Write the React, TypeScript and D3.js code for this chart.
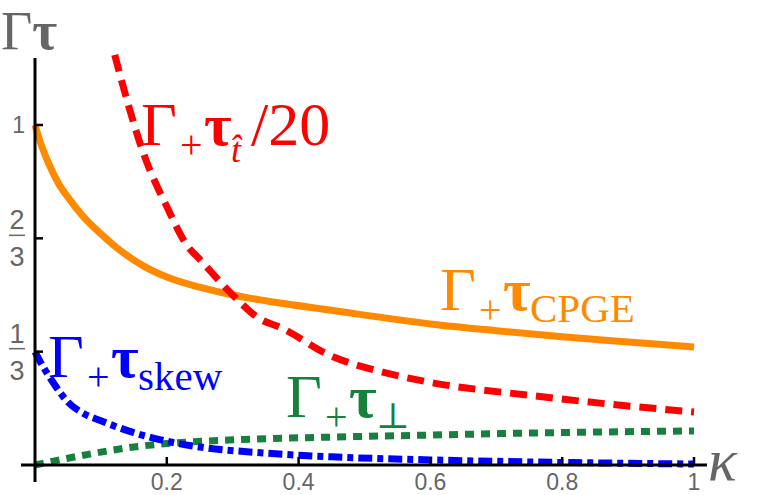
import * as d3 from 'd3';

// values
const kCpge = [0, 0.008, 0.02, 0.035, 0.053, 0.075, 0.1, 0.13, 0.165, 0.2, 0.25, 0.3, 0.35, 0.45, 0.6, 0.7, 0.8, 0.9, 1.0];
const vCpge = [1.0, 0.95, 0.89, 0.83, 0.78, 0.727, 0.68, 0.63, 0.585, 0.553, 0.523, 0.5, 0.483, 0.455, 0.415, 0.395, 0.377, 0.362, 0.347];

const kHat = [0.121, 0.14, 0.164, 0.2, 0.231, 0.25, 0.3, 0.341, 0.372, 0.448, 0.524, 0.6, 0.75, 0.857, 1.0];
const vHat = [1.206, 1.07, 0.92, 0.76, 0.645, 0.605, 0.5, 0.43, 0.405, 0.322, 0.275, 0.243, 0.205, 0.182, 0.156];

const kSkew = [0, 0.012, 0.025, 0.05, 0.075, 0.1, 0.15, 0.2, 0.25, 0.35, 0.45, 0.6, 0.75, 0.9, 1.0];
const vSkew = [0.333, 0.29, 0.25, 0.185, 0.15, 0.13, 0.095, 0.07, 0.053, 0.035, 0.024, 0.015, 0.009, 0.005, 0.003];

const kPerp = [0, 0.02, 0.05, 0.1, 0.15, 0.2, 0.3, 0.45, 0.6, 0.75, 1.0];
const vPerp = [0, 0.008, 0.02, 0.038, 0.053, 0.063, 0.074, 0.082, 0.088, 0.094, 0.1];

const xTicks = [0.2, 0.4, 0.6, 0.8, 1];
const xTickLabels = ['0.2', '0.4', '0.6', '0.8', '1'];
const yTicks = [1 / 3, 2 / 3, 1];

const W = 757;
const H = 495;

const x = d3.scaleLinear().domain([0, 1]).range([35, 694]);
const y = d3.scaleLinear().domain([0, 1]).range([465, 125]);

const line = d3
  .line<[number, number]>()
  .x((d) => x(d[0]))
  .y((d) => y(d[1]))
  .curve(d3.curveMonotoneX);

const zip = (a: number[], b: number[]) => a.map((v, i) => [v, b[i]] as [number, number]);

const serif = '"Liberation Serif", "DejaVu Serif", serif';
const sans = '"Liberation Sans", Arial, sans-serif';
const gray = '#666666';

const ORANGE = '#ff8a00';
const RED = '#ff0000';
const BLUE = '#0000ff';
const GREEN = '#17803d';

// label: Γ + τ subscript
const CurveLabel = ({ x0, base, color, sub, subItalic, subSize, subDy, tail }: any) => (
  <text fontFamily={serif} fill={color}>
    <tspan x={x0} y={base} fontSize={62}>Γ</tspan>
    <tspan x={x0 + 39} y={base + 13} fontSize={40}>+</tspan>
    <tspan x={x0 + 63} y={base} fontSize={60} fontWeight="bold">τ</tspan>
    <tspan x={x0 + 90} y={base + subDy} fontSize={subSize} fontStyle={subItalic ? 'italic' : 'normal'}>{sub}</tspan>
    {tail && <tspan x={x0 + 110} y={base} fontSize={62}>{tail}</tspan>}
  </text>
);

export default function App() {
  return (
    <svg width={W} height={H} style={{ position: 'absolute', left: 0, top: 0, background: '#fff' }}>
      {/* curves */}
      <path d={line(zip(kCpge, vCpge)) || ''} fill="none" stroke={ORANGE} strokeWidth={7} />
      <path d={line(zip(kHat, vHat)) || ''} fill="none" stroke={RED} strokeWidth={7} strokeDasharray="17 9" />
      <path d={line(zip(kPerp, vPerp)) || ''} fill="none" stroke={GREEN} strokeWidth={7} strokeDasharray="9 7" />
      <path d={line(zip(kSkew, vSkew)) || ''} fill="none" stroke={BLUE} strokeWidth={7} strokeDasharray="14 5 6 5" />

      {/* axes */}
      <line x1={21} x2={707} y1={y(0)} y2={y(0)} stroke="#000" strokeWidth={3} />
      <line x1={x(0)} x2={x(0)} y1={58} y2={482} stroke="#000" strokeWidth={3} />

      {xTicks.map((t, i) => (
        <g key={t}>
          <line x1={x(t)} x2={x(t)} y1={y(0)} y2={y(0) - 8} stroke="#000" strokeWidth={2.5} />
          <text x={x(t)} y={490} fontFamily={sans} fontSize={23} fill={gray} textAnchor="middle">
            {xTickLabels[i]}
          </text>
        </g>
      ))}
      {yTicks.map((t) => (
        <line key={t} x1={x(0)} x2={x(0) + 8} y1={y(t)} y2={y(t)} stroke="#000" strokeWidth={2.5} />
      ))}
      <text x={25} y={y(1) + 8} fontFamily={sans} fontSize={23} fill={gray} textAnchor="end">1</text>
      {[
        { t: 2 / 3, n: '2' },
        { t: 1 / 3, n: '1' },
      ].map(({ t, n }) => (
        <g key={n} fill={gray} fontFamily={sans} fontSize={27} textAnchor="middle">
          <text x={17} y={y(t) - 9}>{n}</text>
          <line x1={9} x2={25} y1={y(t) - 3} y2={y(t) - 3} stroke={gray} strokeWidth={1.5} />
          <text x={17} y={y(t) + 28}>3</text>
        </g>
      ))}

      {/* axis labels */}
      <text x={1} y={49} fontFamily={serif} fontSize={54} fill={gray}>
        Γ<tspan fontWeight="bold">τ</tspan>
      </text>
      <text x={708} y={480} fontFamily={serif} fontSize={60} fontStyle="italic" fill={gray}>κ</text>

      {/* curve labels */}
      <CurveLabel x0={141} base={145} color={RED} sub={'t\u0302'} subItalic subSize={36} subDy={17} tail="/20" />
      <CurveLabel x0={440} base={310} color={ORANGE} sub="CPGE" subSize={41} subDy={12} />
      <CurveLabel x0={48} base={377} color={BLUE} sub="skew" subSize={41} subDy={13} />
      <CurveLabel x0={286} base={417} color={GREEN} sub="⊥" subSize={36} subDy={11} />
    </svg>
  );
}
